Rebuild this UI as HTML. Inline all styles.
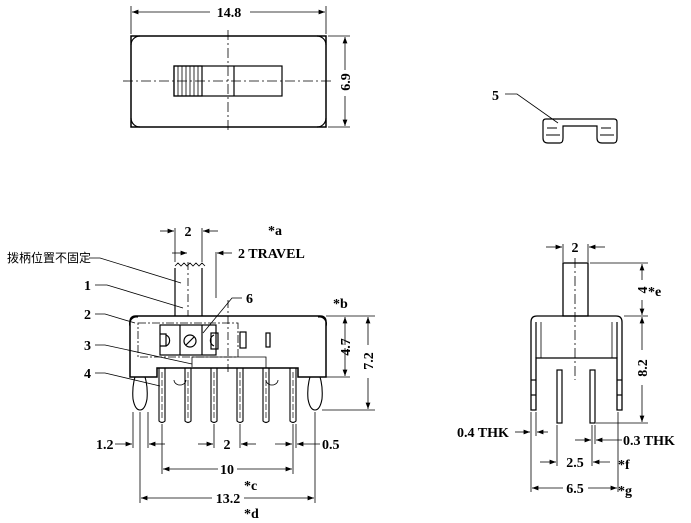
<!DOCTYPE html>
<html><head><meta charset="utf-8"><style>
html,body{margin:0;padding:0;background:#fff}
svg{display:block}
text{font-family:"Liberation Serif","Noto Serif CJK SC",serif;font-size:14px;fill:#000;font-weight:bold}
.cn{font-family:"Liberation Sans","Noto Sans CJK SC",sans-serif;font-size:12px;font-weight:normal}
</style></head><body>
<svg width="691" height="523" viewBox="0 0 691 523" xmlns="http://www.w3.org/2000/svg">
<defs><marker id="a" markerWidth="8" markerHeight="6" refX="8" refY="3" orient="auto"><path d="M0,0 L8,3 L0,6 z" fill="#000"/></marker></defs>
<g stroke="#000" fill="none" stroke-width="1.2">
<!-- TOP VIEW -->
<rect x="131" y="36" width="195" height="91" stroke-width="1.5"/>
<path d="M131,45 a9,9 0 0 1 9,-9 M326,45 a9,9 0 0 0 -9,-9 M131,118 a9,9 0 0 0 9,9 M326,118 a9,9 0 0 1 -9,9"/>
<rect x="174" y="66" width="108" height="30"/>
<line x1="234" y1="66" x2="234" y2="96"/>
<rect x="174" y="66" width="28" height="30"/>
<path d="M178,66v30M182,66v30M186,66v30M190,66v30M194,66v30M198,66v30" stroke-width="0.8"/>
<line x1="123" y1="81" x2="334" y2="81" stroke-dasharray="10,3,2,3" stroke-width="0.8"/>
<line x1="228" y1="30" x2="228" y2="132" stroke-dasharray="10,3,2,3" stroke-width="0.8"/>
<line x1="131" y1="6" x2="131" y2="34" stroke-width="0.8"/><line x1="326" y1="6" x2="326" y2="34" stroke-width="0.8"/>
<line x1="210" y1="12" x2="132" y2="12" marker-end="url(#a)" stroke-width="0.8"/><line x1="250" y1="12" x2="325" y2="12" marker-end="url(#a)" stroke-width="0.8"/>
<line x1="328" y1="36" x2="350" y2="36" stroke-width="0.8"/><line x1="328" y1="127" x2="350" y2="127" stroke-width="0.8"/>
<line x1="345" y1="70" x2="345" y2="37" marker-end="url(#a)" stroke-width="0.8"/><line x1="345" y1="96" x2="345" y2="126" marker-end="url(#a)" stroke-width="0.8"/>
<!-- PART 5 -->
<path d="M543,122 v16 q0,5 5,5 h12 q3,0 3,-5 v-12 h34 v12 q0,5 5,5 h12 q3,0 3,-5 v-16 q0,-3 -3,-3 h-68 q-3,0 -3,3z"/>
<path d="M547,128 h10 M601,128 h10 M546,135 h14 M600,135 h14" stroke-width="1"/>
<path d="M505,94 h12 L558,123" stroke-width="0.8"/>
<!-- FRONT VIEW -->
<path d="M130,377 V322 q0,-6 6,-6 H320 q6,0 6,6 V377 H298 V368 H157 V377 Z" stroke-width="1.5"/>
<path d="M130,326 a7,7 0 0 1 8,-9 M326,326 a7,7 0 0 0 -8,-9" />
<rect x="138" y="323" width="100" height="34" stroke-dasharray="8,2,2,2" stroke-width="0.8"/>
<rect x="160" y="325" width="56" height="30"/>
<line x1="180" y1="325" x2="180" y2="355"/><line x1="202" y1="325" x2="202" y2="355"/>
<path d="M160,334 h6 v12 h-6" /><path d="M166,335 a6,6 0 0 1 0,11"/>
<circle cx="190" cy="341" r="6"/><line x1="186" y1="345" x2="194" y2="337"/>
<path d="M214,335 a6,6 0 0 0 0,11"/><rect x="211" y="333" width="7" height="16"/>
<rect x="240" y="332" width="6" height="16"/><rect x="266" y="333" width="4" height="14"/>
<path d="M192,367 V357 H266 V368" stroke-width="0.8"/>
<path d="M175,316 V268 M202,316 V268" />
<path d="M175,266 l3,-3 3,3 3,-3 3,3 3,-3 3,3 3,-3 3,3 3,-3 3,3" stroke-width="0.8"/>
<line x1="188" y1="262" x2="188" y2="316" stroke-dasharray="8,3,2,3" stroke-width="0.8"/>
<line x1="228" y1="300" x2="228" y2="375" stroke-dasharray="8,3,2,3" stroke-width="0.8"/>
<path d="M174,380 a6,5 0 0 0 12,0 M266,380 a6,5 0 0 0 12,0" stroke-width="0.8"/>
<g stroke-width="1.1">
<path d="M159,368 V421 q3,3 6,0 V368"/><path d="M185,368 V421 q3,3 6,0 V368"/><path d="M211,368 V421 q3,3 6,0 V368"/>
<path d="M237,368 V421 q3,3 6,0 V368"/><path d="M263,368 V421 q3,3 6,0 V368"/><path d="M290,368 V421 q3,3 6,0 V368"/>
<path d="M135,377 q-3,10 -2,22 q2,11 7,11 q5,0 7,-11 q1,-12 -2,-22"/>
<path d="M310,377 q-3,10 -2,22 q2,11 7,11 q5,0 7,-11 q1,-12 -2,-22"/>
</g>
<g stroke-width="0.7"><line x1="162" y1="372" x2="162" y2="420" stroke-dasharray="6,2"/><line x1="188" y1="372" x2="188" y2="420" stroke-dasharray="6,2"/><line x1="214" y1="372" x2="214" y2="420" stroke-dasharray="6,2"/><line x1="240" y1="372" x2="240" y2="420" stroke-dasharray="6,2"/><line x1="266" y1="372" x2="266" y2="420" stroke-dasharray="6,2"/><line x1="293" y1="372" x2="293" y2="420" stroke-dasharray="6,2"/></g>
<!-- front dims -->
<g stroke-width="0.8">
<line x1="175" y1="228" x2="175" y2="262"/><line x1="202" y1="228" x2="202" y2="262"/>
<line x1="160" y1="231" x2="174" y2="231" marker-end="url(#a)"/><line x1="218" y1="231" x2="203" y2="231" marker-end="url(#a)"/>
<line x1="172" y1="253" x2="187" y2="253" marker-end="url(#a)"/>
<line x1="216" y1="252" x2="216" y2="298"/><line x1="232" y1="253" x2="217" y2="253" marker-end="url(#a)"/>
<line x1="326" y1="316" x2="375" y2="316"/><line x1="326" y1="377" x2="350" y2="377"/><line x1="322" y1="410" x2="375" y2="410"/>
<line x1="345" y1="345" x2="345" y2="317" marker-end="url(#a)"/><line x1="345" y1="348" x2="345" y2="376" marker-end="url(#a)"/>
<line x1="368" y1="345" x2="368" y2="317" marker-end="url(#a)"/><line x1="368" y1="378" x2="368" y2="409" marker-end="url(#a)"/>
<line x1="133" y1="412" x2="133" y2="448"/><line x1="140" y1="412" x2="140" y2="503"/><line x1="148" y1="412" x2="148" y2="448"/>
<line x1="162" y1="424" x2="162" y2="474"/><line x1="293" y1="424" x2="293" y2="474"/><line x1="296" y1="424" x2="296" y2="448"/>
<line x1="214" y1="424" x2="214" y2="448"/><line x1="240" y1="424" x2="240" y2="448"/>
<line x1="315" y1="412" x2="315" y2="503"/>
<line x1="115" y1="444" x2="132" y2="444" marker-end="url(#a)"/><line x1="165" y1="444" x2="149" y2="444" marker-end="url(#a)"/>
<line x1="198" y1="444" x2="213" y2="444" marker-end="url(#a)"/><line x1="256" y1="444" x2="241" y2="444" marker-end="url(#a)"/>
<line x1="275" y1="444" x2="292" y2="444" marker-end="url(#a)"/><line x1="320" y1="444" x2="297" y2="444" marker-end="url(#a)"/>
<line x1="218" y1="469" x2="163" y2="469" marker-end="url(#a)"/><line x1="237" y1="469" x2="292" y2="469" marker-end="url(#a)"/>
<line x1="212" y1="498" x2="141" y2="498" marker-end="url(#a)"/><line x1="244" y1="498" x2="314" y2="498" marker-end="url(#a)"/>
<!-- leaders -->
<path d="M89,258 H100 L181,283"/><path d="M95,285 H107 L183,308"/><path d="M95,314 H105 L135,323"/>
<path d="M95,345 H105 L192,364"/><path d="M95,373 H105 L160,386"/><path d="M242,298 H232 L203,333"/>
</g>
<!-- SIDE VIEW -->
<rect x="563" y="263" width="25" height="53" stroke-width="1.3"/>
<path d="M531,410 V322 q0,-6 6,-6 H616 q6,0 6,6 V410 H617 V358 H536 V410 Z" stroke-width="1.3"/>
<line x1="536" y1="322" x2="536" y2="358"/><line x1="617" y1="322" x2="617" y2="358"/>
<line x1="541" y1="322" x2="541" y2="358" stroke-width="0.8"/><line x1="612" y1="322" x2="612" y2="358" stroke-width="0.8"/>
<line x1="531" y1="380" x2="536" y2="380"/><line x1="531" y1="395" x2="536" y2="395"/>
<line x1="617" y1="380" x2="622" y2="380"/><line x1="617" y1="395" x2="622" y2="395"/>
<rect x="557" y="370" width="5" height="53"/><rect x="590" y="370" width="5" height="53"/>
<line x1="575" y1="258" x2="575" y2="380" stroke-dasharray="10,3,2,3" stroke-width="0.8"/>
<g stroke-width="0.8">
<line x1="563" y1="244" x2="563" y2="262"/><line x1="588" y1="244" x2="588" y2="262"/>
<line x1="546" y1="247" x2="562" y2="247" marker-end="url(#a)"/><line x1="605" y1="247" x2="589" y2="247" marker-end="url(#a)"/>
<line x1="590" y1="263" x2="648" y2="263"/><line x1="624" y1="316" x2="648" y2="316"/><line x1="596" y1="423" x2="648" y2="423"/>
<line x1="642" y1="280" x2="642" y2="264" marker-end="url(#a)"/><line x1="642" y1="300" x2="642" y2="315" marker-end="url(#a)"/>
<line x1="642" y1="350" x2="642" y2="317" marker-end="url(#a)"/><line x1="642" y1="385" x2="642" y2="422" marker-end="url(#a)"/>
<line x1="531" y1="412" x2="531" y2="492"/><line x1="536" y1="412" x2="536" y2="436"/>
<line x1="557" y1="425" x2="557" y2="466"/><line x1="592" y1="425" x2="592" y2="466"/><line x1="595" y1="425" x2="595" y2="444"/>
<line x1="618" y1="412" x2="618" y2="492"/>
<line x1="515" y1="432" x2="530" y2="432" marker-end="url(#a)"/><line x1="548" y1="432" x2="537" y2="432" marker-end="url(#a)"/>
<line x1="575" y1="440" x2="591" y2="440" marker-end="url(#a)"/><line x1="622" y1="440" x2="596" y2="440" marker-end="url(#a)"/>
<line x1="540" y1="462" x2="556" y2="462" marker-end="url(#a)"/><line x1="610" y1="462" x2="593" y2="462" marker-end="url(#a)"/>
<line x1="563" y1="488" x2="532" y2="488" marker-end="url(#a)"/><line x1="588" y1="488" x2="617" y2="488" marker-end="url(#a)"/>
</g>
</g>
<!-- TEXT -->
<text x="229" y="17" text-anchor="middle">14.8</text>
<text transform="translate(350,82) rotate(-90)" text-anchor="middle">6.9</text>
<text x="492" y="100">5</text>
<text x="188" y="236" text-anchor="middle">2</text>
<text x="268" y="235">*a</text>
<text x="238" y="258">2 TRAVEL</text>
<text class="cn" x="7" y="262">拨柄位置不固定</text>
<text x="84" y="290">1</text><text x="84" y="319">2</text><text x="84" y="350">3</text><text x="84" y="378">4</text>
<text x="246" y="303">6</text>
<text x="333" y="308">*b</text>
<text transform="translate(350,347) rotate(-90)" text-anchor="middle">4.7</text>
<text transform="translate(373,361) rotate(-90)" text-anchor="middle">7.2</text>
<text x="96" y="449">1.2</text>
<text x="227" y="449" text-anchor="middle">2</text>
<text x="322" y="449">0.5</text>
<text x="227" y="474" text-anchor="middle">10</text>
<text x="244" y="490">*c</text>
<text x="228" y="503" text-anchor="middle">13.2</text>
<text x="244" y="518">*d</text>
<text x="575" y="252" text-anchor="middle">2</text>
<text transform="translate(647,290) rotate(-90)" text-anchor="middle">4</text>
<text x="648" y="296">*e</text>
<text transform="translate(647,368) rotate(-90)" text-anchor="middle">8.2</text>
<text x="457" y="437">0.4 THK</text>
<text x="623" y="445">0.3 THK</text>
<text x="575" y="467" text-anchor="middle">2.5</text>
<text x="618" y="469">*f</text>
<text x="575" y="493" text-anchor="middle">6.5</text>
<text x="618" y="495">*g</text>
</svg>
</body></html>
